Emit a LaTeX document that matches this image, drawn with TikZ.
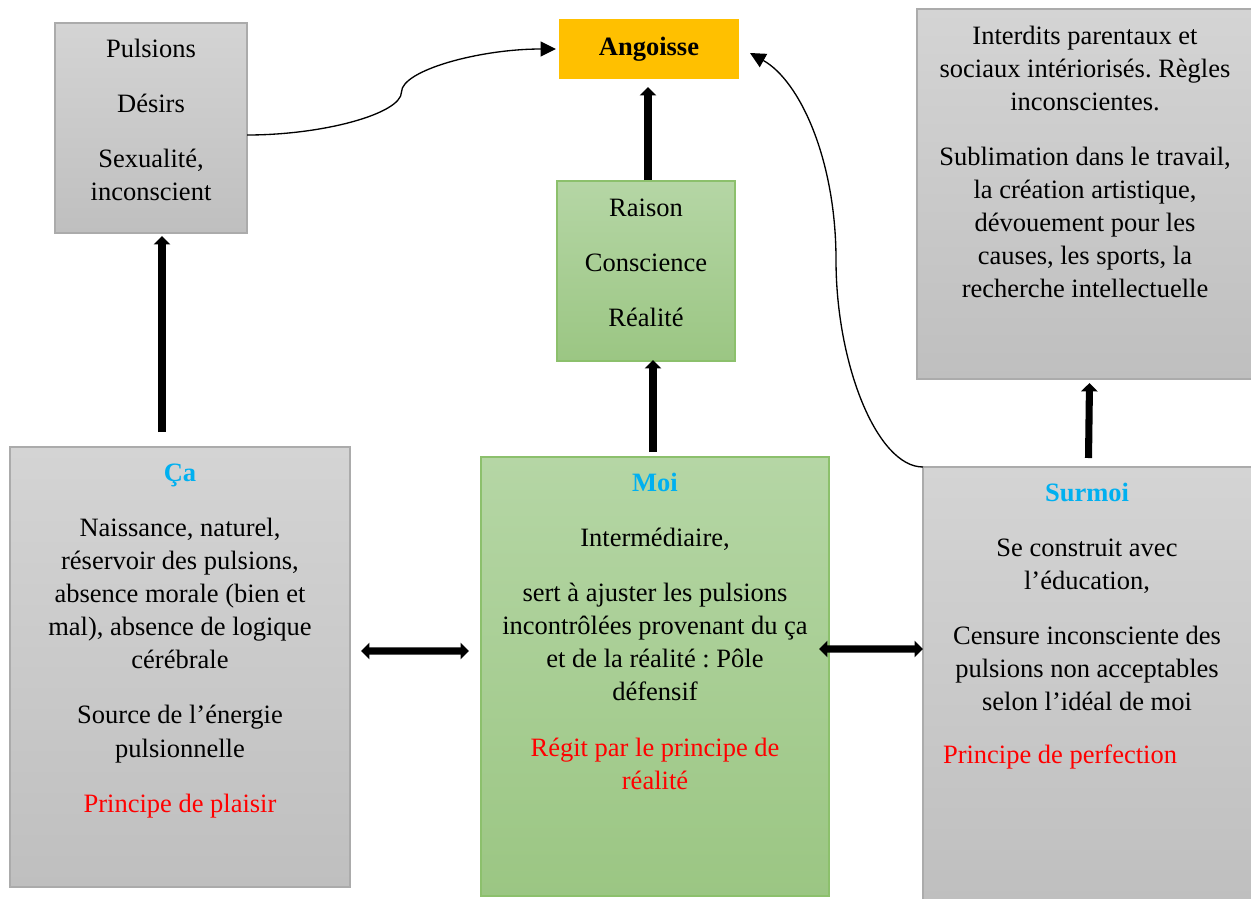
\documentclass[tikz,border=0pt]{standalone}
\usepackage{fontspec}
\setmainfont{Liberation Serif}
\usetikzlibrary{arrows.meta,calc,fit}
\definecolor{titleblue}{HTML}{00B0F0}
\definecolor{redtxt}{HTML}{FF0000}
\definecolor{graytop}{HTML}{D4D4D4}
\definecolor{graybot}{HTML}{BFBFBF}
\definecolor{grayline}{HTML}{ABABAB}
\definecolor{greentop}{HTML}{B5D6A5}
\definecolor{greenbot}{HTML}{9BC683}
\definecolor{greenline}{HTML}{8CC06C}
\definecolor{angcol}{HTML}{FFC000}
\frenchspacing
\begin{document}
\begin{tikzpicture}[x=0.4528pt,y=-0.4528pt,
  graybox/.style={draw=grayline, line width=0.6pt, top color=graytop, bottom color=graybot, inner sep=0pt, outer sep=0pt},
  greenbox/.style={draw=greenline, line width=0.6pt, top color=greentop, bottom color=greenbot, inner sep=0pt, outer sep=0pt},
  txt/.style={inner sep=0pt, outer sep=0pt, anchor=base, font=\fontsize{12}{15}\selectfont},
  bigarrow/.style={line width=3.2pt, -{Triangle[width=7.3pt,length=3.8pt]}},
  dblarrow/.style={line width=3.2pt, {Triangle[width=7.3pt,length=3.8pt]}-{Triangle[width=7.3pt,length=3.8pt]}},
  thinarrow/.style={line width=0.6pt, -{Triangle[width=6.8pt,length=7pt]}}
]
\useasboundingbox (0,0) rectangle (1251,898);
\fill[white] (0,0) rectangle (1251,898);

% boxes
\node[graybox, fit={(55,23) (247,233)}] (pul) {};
\node[fill=angcol, inner sep=0pt, outer sep=0pt, minimum width=180*0.4528pt, minimum height=60*0.4528pt,
      font=\fontsize{12}{15}\selectfont\bfseries] (ang) at (649,49) {Angoisse};
\node[greenbox, fit={(557,181) (735,361)}] (rai) {};
\node[graybox, fit={(917,9) (1254,379)}] (int) {};
\node[graybox, fit={(10,447) (350,887)}] (ca) {};
\node[greenbox, fit={(481,457) (829,896)}] (moi) {};
\node[graybox, fit={(923,467) (1254,901)}] (sur) {};

% texts
\node[txt] (tpul) at (151,57) {\begin{tabular}[t]{@{}c@{}}Pulsions\\[10pt] Désirs\\[10pt] Sexualité,\\ inconscient\end{tabular}};
\node[txt] (trai) at (646,216) {\begin{tabular}[t]{@{}c@{}}Raison\\[10pt] Conscience\\[10pt] Réalité\end{tabular}};
\node[txt] (tint) at (1085,44) {\begin{tabular}[t]{@{}c@{}}Interdits parentaux et\\ sociaux intériorisés. Règles\\ inconscientes.\\[10pt] Sublimation dans le travail,\\ la création artistique,\\ dévouement pour les\\ causes, les sports, la\\ recherche intellectuelle\end{tabular}};
\node[txt] (tca) at (180,481) {\begin{tabular}[t]{@{}c@{}}{\bfseries\color{titleblue}Ça}\\[10pt] Naissance, naturel,\\ réservoir des pulsions,\\ absence morale (bien et\\ mal), absence de logique\\ cérébrale\\[10pt] Source de l’énergie\\ pulsionnelle\\[10pt] {\color{redtxt}Principe de plaisir}\end{tabular}};
\node[txt] (tmoi) at (655,491) {\begin{tabular}[t]{@{}c@{}}{\bfseries\color{titleblue}Moi}\\[10pt] Intermédiaire,\\[10pt] sert à ajuster les pulsions\\ incontrôlées provenant du ça\\ et de la réalité : Pôle\\ défensif\\[10pt] {\color{redtxt}Régit par le principe de}\\ {\color{redtxt}réalité}\end{tabular}};
\node[txt] (tsur) at (1087,501) {\begin{tabular}[t]{@{}c@{}}{\bfseries\color{titleblue}Surmoi}\\[10pt] Se construit avec\\ l’éducation,\\[10pt] Censure inconsciente des\\ pulsions non acceptables\\ selon l’idéal de moi\end{tabular}};
\node[txt, anchor=base west] (tsurp) at (943,763) {\color{redtxt}Principe de perfection};

% thick arrows
\draw[bigarrow] ($(ca.north)+(-18,-15)$) -- ($(pul.south)+(11,3)$);
\draw[bigarrow] ($(moi.north)+(-2,-5)$) -- ($(rai.south)+(7,-1)$);
\draw[bigarrow] ($(rai.north)+(2,-1)$) -- ($(ang.south)+(-1,8)$);
\draw[bigarrow] ($(sur.north)+(0,-9)$) -- ($(int.south)+(4,4)$);
\draw[dblarrow] ($(ca.east)+(11,-16)$) -- ($(moi.west)+(-12,-25.5)$);
\draw[dblarrow] ($(moi.east)+(-10,-27.5)$) -- ($(sur.west)+(0,-35)$);

% curved connectors
\coordinate (m1) at (401.5,92);
\coordinate (m2) at (836,260);
\draw[thinarrow] ($(pul.east)+(0,7)$) .. controls +(77,0) and +(0,21.5) .. (m1)
   .. controls +(0,-21.5) and +(-77,0) .. ($(ang.west)+(-3,0)$);
\draw[thinarrow] (sur.north west) .. controls +(-46,0) and +(0,104) .. (m2)
   .. controls +(0,-100) and +(50,28) .. ($(ang.east)+(11,4)$);
\end{tikzpicture}
\end{document}
